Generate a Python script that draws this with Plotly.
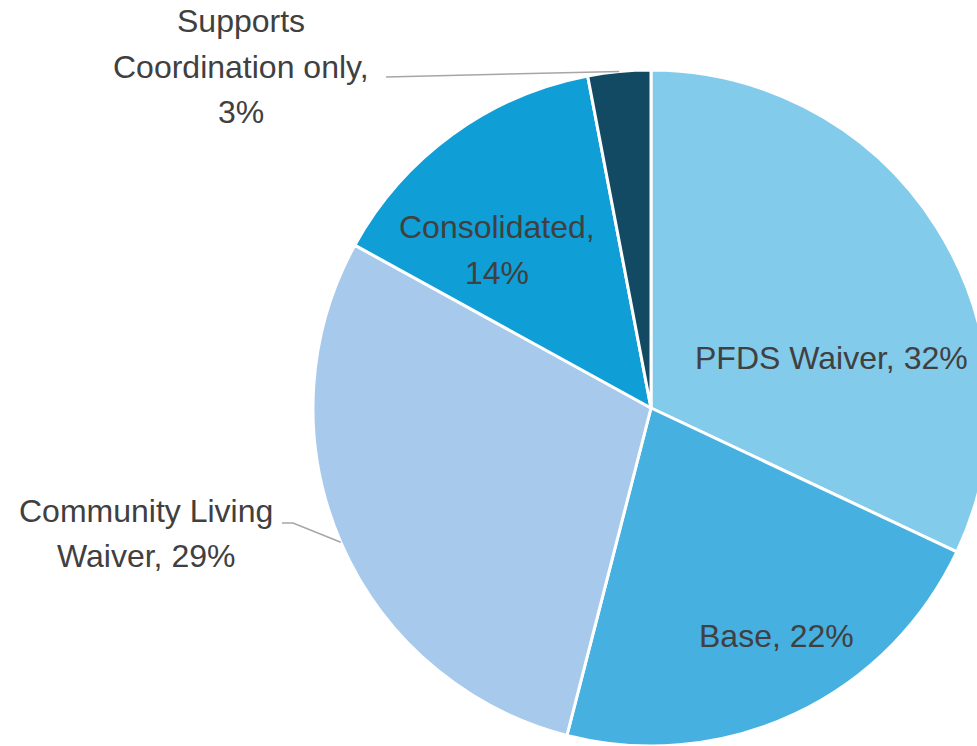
import math
import plotly.graph_objects as go

# ---- data ----
categories = ["PFDS Waiver", "Base", "Community Living Waiver", "Consolidated", "Supports Coordination only"]
values = [32, 22, 29, 14, 3]
label_lines = [
    ["PFDS Waiver, 32%"],
    ["Base, 22%"],
    ["Community Living", "Waiver, 29%"],
    ["Consolidated,", "14%"],
    ["Supports", "Coordination only,", "3%"],
]
colors = ["#83CBEB", "#46B0E1", "#A6C9EC", "#0F9ED5", "#124A63"]

# ---- layout geometry ----
W, H = 1000, 746
dom_x = [0.313, 0.989]
dom_y = [0.0, 676 / 746]
cx = W * (dom_x[0] + dom_x[1]) / 2
r = min(W * (dom_x[1] - dom_x[0]), H * (dom_y[1] - dom_y[0])) / 2
cy = H * (1 - dom_y[0]) - H * (dom_y[1] - dom_y[0]) / 2

# label block centre positions (pixels), line spacing, leader-line start points
label_pos = [(831, 358), (776, 636), (146, 533.5), (497, 250), (241, 66.5)]
line_gap = 45
leader_start = [None, None, [(282, 523), (293, 523)], None, [(386, 77)]]

fig = go.Figure(go.Pie(
    labels=categories,
    values=values,
    sort=False,
    direction="clockwise",
    rotation=0,
    marker=dict(colors=colors, line=dict(color="white", width=3)),
    textinfo="none",
    hoverinfo="label+percent",
    domain=dict(x=dom_x, y=dom_y),
    showlegend=False,
))

def px2paper(x, y):
    return x / W, 1 - y / H

total = sum(values)
cum = 0
shapes = []
annotations = []
for i, v in enumerate(values):
    mid = (cum + v / 2) / total * 2 * math.pi
    cum += v
    ex = cx + r * math.sin(mid)
    ey = cy - r * math.cos(mid)
    lx, ly = label_pos[i]
    n = len(label_lines[i])
    for j, line in enumerate(label_lines[i]):
        yy = ly + (j - (n - 1) / 2) * line_gap
        px, py = px2paper(lx, yy)
        annotations.append(dict(
            x=px, y=py, xref="paper", yref="paper", text=line,
            showarrow=False, xanchor="center", yanchor="middle", align="center",
            font=dict(family="Liberation Sans, Arial, sans-serif", size=32, color="#404040"),
        ))
    if leader_start[i]:
        pts = leader_start[i] + [(ex, ey)]
        path = "M " + " L ".join(f"{a / W},{1 - b / H}" for a, b in pts)
        shapes.append(dict(type="path", xref="paper", yref="paper", path=path,
                           line=dict(color="#A6A6A6", width=1.5)))

fig.update_layout(
    width=W, height=H,
    margin=dict(l=0, r=0, t=0, b=0),
    paper_bgcolor="white", plot_bgcolor="white",
    annotations=annotations, shapes=shapes,
)

fig.write_html(
    "out.html",
    config={"displayModeBar": False},
    post_script="document.body.style.margin='0';document.body.style.overflow='hidden';",
)
